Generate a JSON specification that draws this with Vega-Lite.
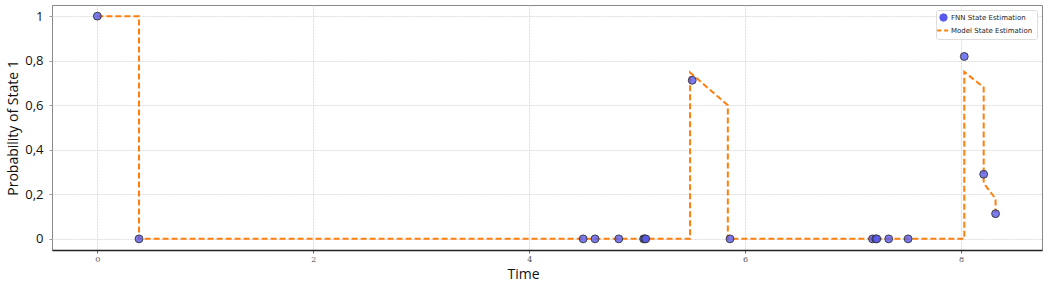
{
  "$schema": "https://vega.github.io/schema/vega-lite/v6.json",
  "width": 990,
  "height": 245,
  "autosize": {"type": "none"},
  "padding": {"left": 52, "top": 5, "right": 5, "bottom": 38},
  "background": "white",
  "config": {
    "view": {"stroke": "#888", "strokeWidth": 1},
    "font": "DejaVu Sans"
  },
  "datasets": {
    "pts": [
      {"t": 0, "p": 1, "series": "FNN State Estimation"},
      {"t": 0.386, "p": 0, "series": "FNN State Estimation"},
      {"t": 4.5, "p": 0, "series": "FNN State Estimation"},
      {"t": 4.61, "p": 0, "series": "FNN State Estimation"},
      {"t": 4.83, "p": 0, "series": "FNN State Estimation"},
      {"t": 5.06, "p": 0, "series": "FNN State Estimation"},
      {"t": 5.07, "p": 0, "series": "FNN State Estimation"},
      {"t": 5.08, "p": 0, "series": "FNN State Estimation"},
      {"t": 5.51, "p": 0.712, "series": "FNN State Estimation"},
      {"t": 5.86, "p": 0, "series": "FNN State Estimation"},
      {"t": 7.18, "p": 0, "series": "FNN State Estimation"},
      {"t": 7.21, "p": 0, "series": "FNN State Estimation"},
      {"t": 7.22, "p": 0, "series": "FNN State Estimation"},
      {"t": 7.33, "p": 0, "series": "FNN State Estimation"},
      {"t": 7.51, "p": 0, "series": "FNN State Estimation"},
      {"t": 8.03, "p": 0.819, "series": "FNN State Estimation"},
      {"t": 8.21, "p": 0.29, "series": "FNN State Estimation"},
      {"t": 8.32, "p": 0.113, "series": "FNN State Estimation"}
    ],
    "model": [
      {"i": 0, "t": 0, "p": 1, "series": "Model State Estimation"},
      {"i": 1, "t": 0.386, "p": 1, "series": "Model State Estimation"},
      {"i": 2, "t": 0.386, "p": 0, "series": "Model State Estimation"},
      {"i": 3, "t": 5.49, "p": 0, "series": "Model State Estimation"},
      {"i": 4, "t": 5.49, "p": 0.747, "series": "Model State Estimation"},
      {"i": 5, "t": 5.84, "p": 0.6, "series": "Model State Estimation"},
      {"i": 6, "t": 5.84, "p": 0, "series": "Model State Estimation"},
      {"i": 7, "t": 8.03, "p": 0, "series": "Model State Estimation"},
      {"i": 8, "t": 8.03, "p": 0.75, "series": "Model State Estimation"},
      {"i": 9, "t": 8.21, "p": 0.68, "series": "Model State Estimation"},
      {"i": 10, "t": 8.21, "p": 0.25, "series": "Model State Estimation"},
      {"i": 11, "t": 8.32, "p": 0.18, "series": "Model State Estimation"},
      {"i": 12, "t": 8.32, "p": 0.12, "series": "Model State Estimation"}
    ]
  },
  "encoding": {
    "x": {
      "field": "t", "type": "quantitative",
      "scale": {"domain": [-0.42, 8.75], "nice": false, "zero": false},
      "axis": {
        "title": "Time", "titleFontSize": 14, "titleFont": "Open Sans", "titleFontWeight": "normal", "titleColor": "#111",
        "titlePadding": 4, "titleX": 471,
        "values": [0, 2, 4, 6, 8], "labelFontSize": 8, "labelFont": "DejaVu Serif", "labelColor": "#555",
        "tickSize": 3, "tickColor": "#666", "labelPadding": 2,
        "domainColor": "#222", "domainWidth": 1.5,
        "grid": true, "gridColor": "#dddddd", "gridDash": [2, 1]
      }
    },
    "y": {
      "field": "p", "type": "quantitative",
      "scale": {"domain": [-0.05, 1.05], "nice": false, "zero": false},
      "axis": {
        "title": "Probability of State 1", "titleFontSize": 14, "titleFont": "Open Sans", "titleFontWeight": "normal", "titleColor": "#111",
        "titlePadding": 4,
        "values": [0, 0.2, 0.4, 0.6, 0.8, 1],
        "labelExpr": "replace(format(datum.value, '~g'), '.', ',')",
        "labelFontSize": 13, "labelFont": "Open Sans", "labelColor": "#111",
        "tickSize": 3, "tickColor": "#999", "labelPadding": 6,
        "domain": false,
        "grid": true, "gridColor": "#dddddd", "gridDash": [2, 1]
      }
    },
    "color": {
      "field": "series", "type": "nominal",
      "scale": {"domain": ["FNN State Estimation", "Model State Estimation"], "range": ["#5a5aee", "#ff7f0e"]},
      "legend": {
        "title": null, "orient": "top-right", "offset": 5,
        "labelFontSize": 7, "labelFont": "DejaVu Sans", "labelColor": "#222",
        "fillColor": "white", "strokeColor": "#dddddd", "padding": 4, "cornerRadius": 2,
        "rowPadding": 2, "symbolSize": 60,
        "encode": {
          "symbols": {
            "update": {
              "shape": {"signal": "datum.value === 'FNN State Estimation' ? 'circle' : 'stroke'"},
              "size": {"signal": "datum.value === 'FNN State Estimation' ? 55 : 160"},
              "stroke": {"signal": "datum.value === 'FNN State Estimation' ? '#333333' : '#ff7f0e'"},
              "strokeWidth": {"signal": "datum.value === 'FNN State Estimation' ? 1 : 2"},
              "strokeDash": {"signal": "datum.value === 'FNN State Estimation' ? [] : [4, 3]"}
            }
          }
        }
      }
    }
  },
  "layer": [
    {
      "data": {"name": "model"},
      "mark": {"type": "line", "strokeWidth": 2, "strokeDash": [6, 3], "interpolate": "linear"},
      "encoding": {"order": {"field": "i", "type": "quantitative"}}
    },
    {
      "data": {"name": "pts"},
      "mark": {"type": "point", "filled": true, "size": 62, "fillOpacity": 0.8, "opacity": 1, "stroke": "#333333", "strokeWidth": 1, "strokeOpacity": 0.9}
    }
  ]
}
